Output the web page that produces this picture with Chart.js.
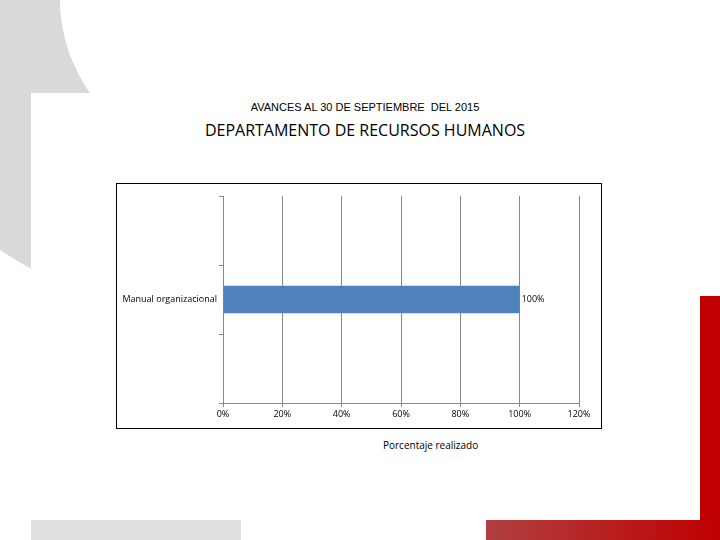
<!DOCTYPE html>
<html>
<head>
<meta charset="utf-8">
<script src="https://cdn.jsdelivr.net/npm/chart.js@4"></script>
<style>
  body { margin: 0; width: 720px; height: 540px; position: relative; overflow: hidden; background: #fff; font-family: "Liberation Sans", sans-serif; }
  .swoosh { position: absolute; left: -120px; top: -260px; width: 560px; height: 560px; border-radius: 50%; background: #d9d9d9; }
  .swoosh2 { position: absolute; left: 60px; top: -200px; width: 520px; height: 400px; border-radius: 50%; background: #fff; }
  .panel { position: absolute; left: 31px; top: 93px; width: 668px; height: 428px; background: #fff; }
  .red { position: absolute; left: 700px; top: 296px; width: 20px; height: 244px; background: #c00000; }
  .bottom { position: absolute; left: 486px; top: 520px; width: 234px; height: 20px; background: linear-gradient(90deg, #b04040, #c00000); }
  .grayb { position: absolute; left: 31px; top: 520px; width: 210px; height: 20px; background: #e0e0e0; }
  .t1 { position: absolute; top: 101px; left: 0; width: 730px; text-align: center; font-size: 11px; }
  .t2 { position: absolute; top: 119px; left: 0; width: 730px; text-align: center; font-size: 16px; font-family: "Open Sans", sans-serif; }
  .xt { position: absolute; top: 438px; left: 383px; font-size: 10px; font-family: "Open Sans", sans-serif; }
  #wrap { position: absolute; left: 116px; top: 183px; width: 484px; height: 244px; border: 1px solid #000; background: #fff; }
</style>
</head>
<body>
<div class="swoosh"></div><div class="swoosh2"></div>
<div class="panel"></div>
<div class="red"></div><div class="grayb"></div><div class="bottom"></div>
<div class="t1">AVANCES AL 30 DE SEPTIEMBRE &nbsp;DEL 2015</div>
<div class="t2">DEPARTAMENTO DE RECURSOS HUMANOS</div>
<div id="wrap"><canvas id="c" width="484" height="244"></canvas></div>
<div class="xt">Porcentaje realizado</div>
<script>
const categories = ["", "Manual organizacional", ""];
const values = [null, 1.0, null];
const xTicks = [0, 0.2, 0.4, 0.6, 0.8, 1.0, 1.2];

const valueLabels = {
  id: "valueLabels",
  afterDatasetsDraw(chart) {
    const ctx = chart.ctx;
    ctx.save();
    ctx.font = "9px 'Open Sans'";
    ctx.fillStyle = "#000";
    ctx.textBaseline = "middle";
    chart.getDatasetMeta(0).data.forEach((bar, i) => {
      if (values[i] == null) return;
      ctx.fillText(Math.round(values[i] * 100) + "%", bar.x + 2, bar.y);
    });
    ctx.restore();
  }
};

new Chart(document.getElementById("c"), {
  type: "bar",
  data: {
    labels: categories,
    datasets: [{ data: values, backgroundColor: "#4f81bd", barPercentage: 0.8, categoryPercentage: 0.5 }]
  },
  options: {
    indexAxis: "y",
    responsive: false,
    animation: false,
    layout: { padding: { top: 12, right: 22 } },
    plugins: { legend: { display: false }, tooltip: { enabled: false } },
    scales: {
      x: {
        min: 0, max: 1.2,
        afterBuildTicks: s => { s.ticks = xTicks.map(v => ({ value: v })); },
        afterFit: s => { s.height = 25; },
        grid: { color: "#888", tickLength: 4 },
        border: { color: "#888" },
        ticks: { color: "#000", font: { size: 9, family: "Open Sans" }, padding: 2,
          callback: v => Math.round(v * 100) + "%" }
      },
      y: {
        afterFit: s => { s.width = 106; },
        grid: { offset: true, drawOnChartArea: false, color: "#888", tickLength: 4 },
        border: { color: "#888" },
        ticks: { color: "#000", font: { size: 9, family: "Open Sans" }, padding: 2 }
      }
    }
  },
  plugins: [valueLabels]
});
</script>
</body>
</html>
